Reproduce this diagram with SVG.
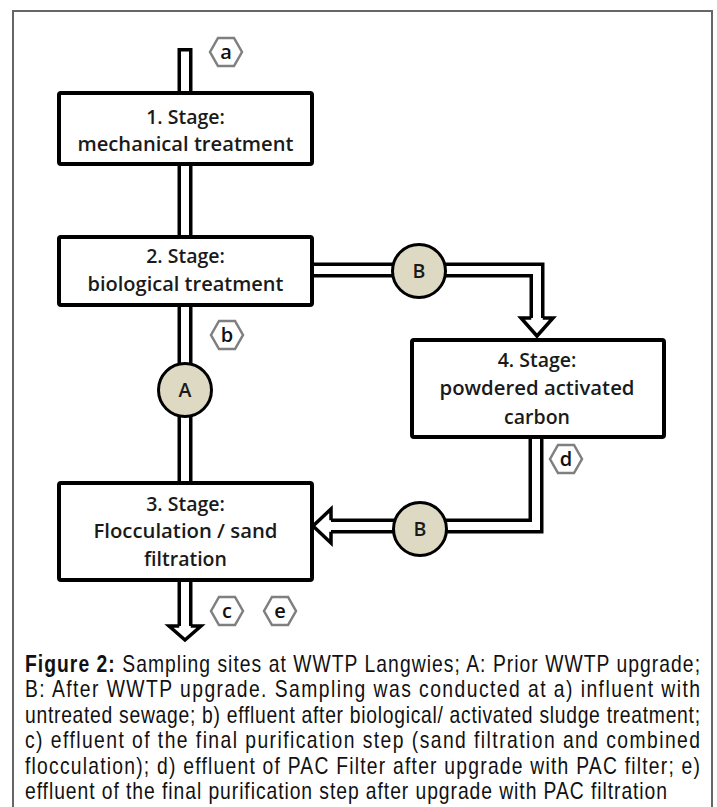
<svg xmlns="http://www.w3.org/2000/svg" width="717" height="807" viewBox="0 0 717 807">
<style>
.box{fill:#fff;stroke:#000;stroke-width:4}
.lbl{font-family:"Open Sans","Noto Sans",sans-serif;font-size:19.5px;font-weight:600;fill:#1a1a1a;text-anchor:middle}
.pipeO{fill:none;stroke:#000;stroke-width:15;stroke-linejoin:miter}
.pipeI{fill:none;stroke:#fff;stroke-width:8;stroke-linejoin:miter}
.head{fill:#fff;stroke:none}
.headS{fill:none;stroke:#000;stroke-width:3.5;stroke-linejoin:miter}
.circ{fill:#ddd9c3;stroke:#000;stroke-width:3}
.hex{fill:#fff;stroke:#7f7f7f;stroke-width:2.5}
.hexT{font-family:"Open Sans","Noto Sans",sans-serif;font-size:20px;font-weight:600;fill:#111;text-anchor:middle}
.cap{font-family:"Liberation Sans",Arial,sans-serif;font-size:23px;fill:#111}
</style>
<rect x="0" y="0" width="717" height="807" fill="#fff"/>
<path d="M13,808 V11 H712 V808" fill="none" stroke="#666" stroke-width="2"/>

<g id="connectors">
  <path class="pipeO" d="M185,48 V95"/>
  <path class="pipeI" d="M185,51.5 V95"/>
  <path class="pipeO" d="M185,162 V239"/>
  <path class="pipeI" d="M185,162 V239"/>
  <path class="pipeO" d="M185,303 V485"/>
  <path class="pipeI" d="M185,303 V485"/>
  <path class="pipeO" d="M310,270 H537 V319.75"/>
  <path class="pipeI" d="M310,270 H537 V322"/>
  <path class="head" d="M520,318 L554,318 L537,337 Z"/>
  <path class="headS" d="M531.25,318 H521 L537,336 L553,318 H542.75"/>
  <path class="pipeO" d="M536,435 V526 H330.25"/>
  <path class="pipeI" d="M536,435 V526 H328"/>
  <path class="head" d="M331,508 L331,544 L312,526 Z"/>
  <path class="headS" d="M331,520.25 V509 L313,526 L331,543 V531.75"/>
  <path class="pipeO" d="M185,578 V627.75"/>
  <path class="pipeI" d="M185,578 V630"/>
  <path class="head" d="M168,626 L202,626 L185,641 Z"/>
  <path class="headS" d="M179.25,626 H169 L185,640 L201,626 H190.75"/>
</g>

<g id="stage1">
  <rect class="box" x="59" y="93" width="253" height="71" rx="2"/>
  <text class="lbl" x="185.5" y="124">1. Stage:</text>
  <text class="lbl" x="185.5" y="151" textLength="216" lengthAdjust="spacingAndGlyphs">mechanical treatment</text>
</g>
<g id="stage2">
  <rect class="box" x="59" y="237" width="253" height="68" rx="2"/>
  <text class="lbl" x="185.5" y="263">2. Stage:</text>
  <text class="lbl" x="185.5" y="291" textLength="196" lengthAdjust="spacingAndGlyphs">biological treatment</text>
</g>
<g id="stage4">
  <rect class="box" x="412" y="340" width="252" height="97" rx="2"/>
  <text class="lbl" x="537" y="367">4. Stage:</text>
  <text class="lbl" x="537" y="395" textLength="195" lengthAdjust="spacingAndGlyphs">powdered activated</text>
  <text class="lbl" x="537" y="424">carbon</text>
</g>
<g id="stage3">
  <rect class="box" x="59" y="483" width="253" height="97" rx="2"/>
  <text class="lbl" x="185.5" y="511">3. Stage:</text>
  <text class="lbl" x="185.5" y="538" textLength="184" lengthAdjust="spacingAndGlyphs">Flocculation / sand</text>
  <text class="lbl" x="185.5" y="566">filtration</text>
</g>

<g id="circleA">
  <circle class="circ" cx="185" cy="390" r="26.5"/>
  <text class="lbl" x="185" y="397">A</text>
</g>
<g id="circleB1">
  <circle class="circ" cx="419" cy="271" r="26.5"/>
  <text class="lbl" x="419" y="278">B</text>
</g>
<g id="circleB2">
  <circle class="circ" cx="420" cy="529" r="26.5"/>
  <text class="lbl" x="420" y="536">B</text>
</g>

<g id="hex-a">
  <polygon class="hex" points="210,52 218,38 234,38 242,52 234,66 218,66"/>
  <text class="hexT" x="226" y="58.5">a</text>
</g>
<g id="hex-b">
  <polygon class="hex" points="211,335 219,321 235,321 243,335 235,349 219,349"/>
  <text class="hexT" x="227" y="341.5">b</text>
</g>
<g id="hex-d">
  <polygon class="hex" points="550,459 558,445 574,445 582,459 574,473 558,473"/>
  <text class="hexT" x="566" y="465.5">d</text>
</g>
<g id="hex-c">
  <polygon class="hex" points="211,611 219,597 235,597 243,611 235,625 219,625"/>
  <text class="hexT" x="227" y="617.5">c</text>
</g>
<g id="hex-e">
  <polygon class="hex" points="264,611 272,597 288,597 296,611 288,625 272,625"/>
  <text class="hexT" x="280" y="617.5">e</text>
</g>

<g id="caption" transform="scale(0.84,1)">
  <text class="cap" x="29.76" y="672" textLength="803.6" lengthAdjust="spacing"><tspan font-weight="bold">Figure 2:</tspan> Sampling sites at WWTP Langwies; A: Prior WWTP upgrade;</text>
  <text class="cap" x="29.76" y="697.5" textLength="803.6" lengthAdjust="spacing">B: After WWTP upgrade. Sampling was conducted at a) influent with</text>
  <text class="cap" x="29.76" y="723" textLength="803.6" lengthAdjust="spacing">untreated sewage; b) effluent after biological/ activated sludge treatment;</text>
  <text class="cap" x="29.76" y="748.5" textLength="803.6" lengthAdjust="spacing">c) effluent of the final purification step (sand filtration and combined</text>
  <text class="cap" x="29.76" y="774" textLength="803.6" lengthAdjust="spacing">flocculation); d) effluent of PAC Filter after upgrade with PAC filter; e)</text>
  <text class="cap" x="29.76" y="799.5" textLength="764.3" lengthAdjust="spacing">effluent of the final purification step after upgrade with PAC filtration</text>
</g>
</svg>
